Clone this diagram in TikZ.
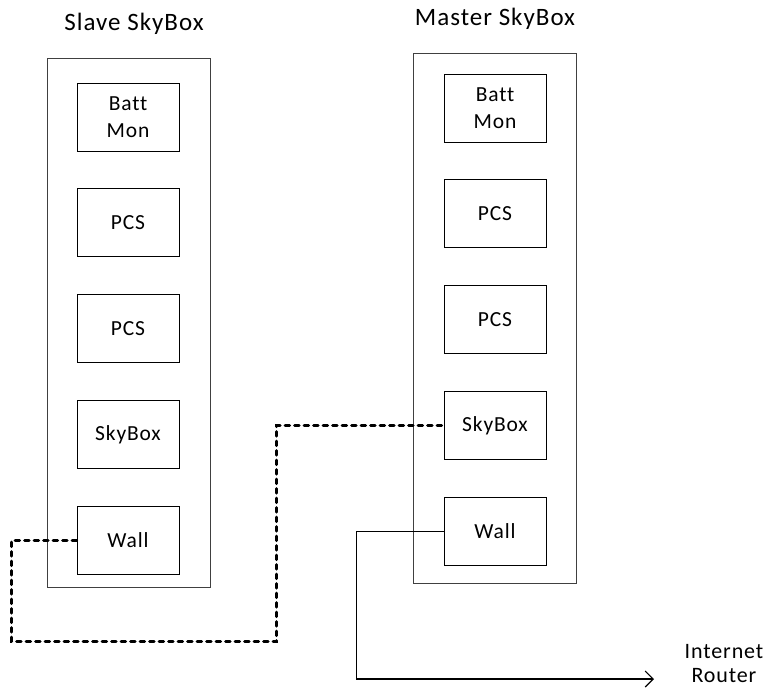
\documentclass[tikz,border=0pt]{standalone}
\usepackage{fontspec}
\setmainfont{Carlito}[Ligatures=NoCommon,LetterSpace=4]
\usetikzlibrary{positioning,arrows.meta}
\tikzset{
	rack/.style={draw=black!75,line width=0.9pt,minimum width=163pt,inner sep=0},
	unit/.style={draw,line width=0.9pt,minimum width=102pt,minimum height=68pt,align=center,font=\fontsize{21.5}{27}\selectfont},
	title/.style={font=\fontsize{25}{30}\selectfont},
	cable/.style={line width=3pt,line cap=round,dash pattern=on 4.5pt off 5pt},
	wire/.style={line width=1.1pt}
}
\begin{document}
\begin{tikzpicture}[x=1pt,y=-1pt]
	\useasboundingbox (0,0) rectangle (773,689);
	\node[rack,minimum height=529pt] (slave) at (128.5,322.5){};
	\node[rack,minimum height=530pt] (master) at (495,318){};
	\node[title] (slavetitle) at (134,24) {Slave SkyBox};
	\node[title] (mastertitle) at (495,19) {Master SkyBox};

	\node[unit] (sbatt) at (128,117) {Batt\\Mon};
	\node[unit,below=37pt of sbatt] (spcsa) {PCS};
	\node[unit,below=37pt of spcsa] (spcsb) {PCS};
	\node[unit,below=37pt of spcsb] (sskybox) {SkyBox};
	\node[unit,below=37pt of sskybox] (swall) {Wall};

	\node[unit] (mbatt) at (495,108) {Batt\\Mon};
	\node[unit,below=37pt of mbatt] (mpcsa) {PCS};
	\node[unit,below=37pt of mpcsa] (mpcsb) {PCS};
	\node[unit,below=37pt of mpcsb] (mskybox) {SkyBox};
	\node[unit,below=37pt of mskybox] (mwall) {Wall};

	\node[align=center,font=\fontsize{22}{24}\selectfont] (router) at (724,664) {Internet\\Router};
	\coordinate (routerend) at (654,679);

	\draw [cable] (swall.west) -| ++(-65,101) -| ([xshift=-167pt]mskybox.west) -- (mskybox.west);
	\draw [wire] [-{Straight Barb[length=8pt,width=16pt,line width=1.1pt]}] (mwall.west) -- ++(-87,0) |- (routerend);
\end{tikzpicture}
\end{document}
